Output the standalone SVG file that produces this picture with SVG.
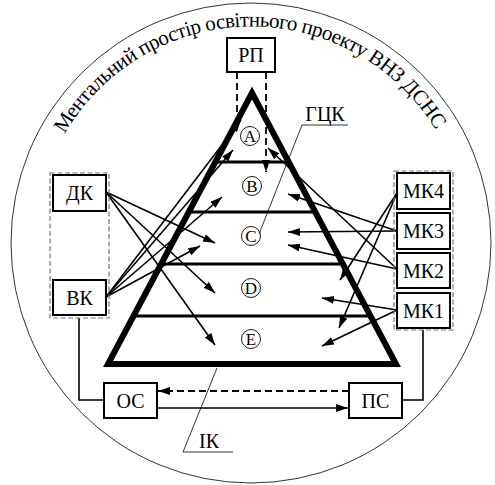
<svg xmlns="http://www.w3.org/2000/svg" width="495" height="485" viewBox="0 0 495 485">
<defs>
<marker id="ah" markerUnits="userSpaceOnUse" markerWidth="13" markerHeight="9" refX="12" refY="4" orient="auto">
<path d="M0,0 L12,4 L0,8 z" fill="#000"/>
</marker>
<path id="arc" d="M64.7,134 A216,216 0 0 1 438.2,134"/>
</defs>
<style>
text{font-family:"Liberation Serif","DejaVu Serif","Noto Serif",Tinos,"Times New Roman",serif;fill:#000}
.box{fill:#fff;stroke:#000;stroke-width:2}
.lbl{font-size:20px;text-anchor:middle}
.grp{fill:none;stroke:#777;stroke-width:1.2;stroke-dasharray:5 2.5}
.ar{stroke:#000;stroke-width:1.6;fill:none;marker-end:url(#ah)}
.ln{stroke:#000;stroke-width:1.6;fill:none}
.dash{stroke:#000;stroke-width:1.8;fill:none;stroke-dasharray:7 4}
.thin{stroke:#000;stroke-width:0.8;fill:none}
.circ{fill:#fff;stroke:#000;stroke-width:0.9}
.cl{font-size:17px;text-anchor:middle}
.div{stroke:#000;stroke-width:3}
</style>
<rect width="495" height="485" fill="#fff"/>
<circle cx="251" cy="243" r="240" fill="none" stroke="#000" stroke-width="0.8"/>
<text font-size="21"><textPath href="#arc" textLength="446" lengthAdjust="spacing">Ментальний простір освітнього проекту ВНЗ ДСНС</textPath></text>

<g id="pyramid">
<polygon points="252,93 108,364 396,364" fill="none" stroke="#000" stroke-width="6" stroke-linejoin="miter"/>
<line class="div" x1="215" y1="162" x2="289" y2="162"/>
<line class="div" x1="189" y1="212" x2="315" y2="212"/>
<line class="div" x1="161" y1="264" x2="343" y2="264"/>
<line class="div" x1="133" y1="316" x2="371" y2="316"/>
</g>

<g id="levelA"><circle class="circ" cx="250" cy="136" r="9.5"/><text class="cl" x="250" y="142">A</text></g>
<g id="levelB"><circle class="circ" cx="252" cy="186" r="9.5"/><text class="cl" x="252" y="192">B</text></g>
<g id="levelC"><circle class="circ" cx="251" cy="236" r="9.5"/><text class="cl" x="251" y="242">C</text></g>
<g id="levelD"><circle class="circ" cx="251" cy="288" r="9.5"/><text class="cl" x="251" y="294">D</text></g>
<g id="levelE"><circle class="circ" cx="251" cy="339" r="9.5"/><text class="cl" x="251" y="345">E</text></g>

<g id="connectors">
<line class="dash" x1="237" y1="72" x2="237" y2="116"/>
<line class="dash" x1="266" y1="72" x2="266" y2="172" marker-end="url(#ah)"/>
<line class="ar" x1="106" y1="192" x2="215" y2="243"/>
<line class="ar" x1="106" y1="192" x2="215" y2="293"/>
<line class="ar" x1="106" y1="192" x2="215" y2="345"/>
<line class="ar" x1="106" y1="297" x2="241" y2="120"/>
<line class="ar" x1="106" y1="297" x2="233" y2="150"/>
<line class="ar" x1="106" y1="297" x2="222" y2="197"/>
<line class="ar" x1="106" y1="297" x2="200" y2="246"/>
<line class="ar" x1="397" y1="193" x2="340" y2="280"/>
<line class="ar" x1="397" y1="193" x2="339" y2="328"/>
<line class="ar" x1="397" y1="231" x2="288" y2="194"/>
<line class="ar" x1="397" y1="231" x2="288" y2="232"/>
<line class="ar" x1="397" y1="269" x2="268" y2="148"/>
<line class="ar" x1="397" y1="269" x2="288" y2="245"/>
<line class="ar" x1="397" y1="310" x2="322" y2="298"/>
<line class="ar" x1="397" y1="310" x2="322" y2="346"/>
<polyline class="ln" points="79,318 79,400 104,400"/>
<polyline class="ln" points="402,400 423,400 423,330"/>
<line class="dash" x1="349" y1="391" x2="158" y2="391" marker-end="url(#ah)"/>
<line class="ar" x1="157" y1="408" x2="348" y2="408"/>
<polyline class="thin" points="259,234 302,125 348,125"/>
<polyline class="thin" points="217,368 183,452 233,452"/>
</g>

<g id="RP"><rect class="box" x="227" y="38" width="48" height="34"/><text class="lbl" x="251" y="62">РП</text></g>
<rect class="grp" x="50" y="173" width="59" height="145"/>
<g id="DK"><rect class="box" x="53" y="175" width="53" height="36"/><text class="lbl" x="79.5" y="200">ДК</text></g>
<g id="VK"><rect class="box" x="53" y="280" width="53" height="35"/><text class="lbl" x="79.5" y="305">ВК</text></g>
<rect class="grp" x="394" y="171" width="59" height="159"/>
<g id="MK4"><rect class="box" x="397" y="173" width="53" height="36"/><text class="lbl" x="423.5" y="198">МК4</text></g>
<g id="MK3"><rect class="box" x="397" y="213" width="53" height="36"/><text class="lbl" x="423.5" y="238">МК3</text></g>
<g id="MK2"><rect class="box" x="397" y="253" width="53" height="35"/><text class="lbl" x="423.5" y="278">МК2</text></g>
<g id="MK1"><rect class="box" x="397" y="293" width="53" height="35"/><text class="lbl" x="423.5" y="318">МК1</text></g>
<g id="OC"><rect class="box" x="104" y="383" width="53" height="35"/><text class="lbl" x="130.5" y="408">ОС</text></g>
<g id="PC"><rect class="box" x="349" y="383" width="53" height="35"/><text class="lbl" x="375.5" y="408">ПС</text></g>
<g id="GCK"><text class="lbl" x="325" y="121">ГЦК</text></g>
<g id="IK"><text class="lbl" x="209" y="448">ІК</text></g>
</svg>
